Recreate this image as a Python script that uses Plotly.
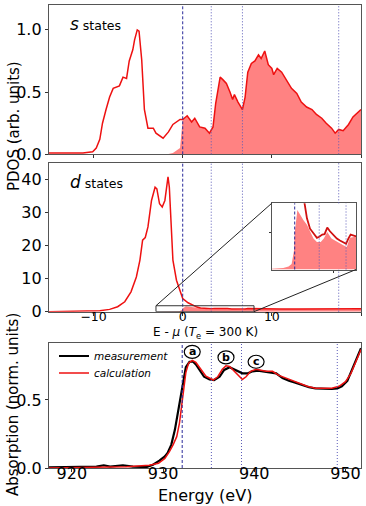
import plotly.graph_objects as go

# ---------------- data ----------------
# s-projected DOS (panel 1), energy relative to mu (eV)
s_x = [-15, -11.2, -10.1, -9.7, -9.3, -9.0, -8.6, -8.2, -7.8, -7.5, -7.1, -6.7, -6.3, -6.0,
       -5.6, -5.4, -5.1, -4.9, -4.6, -4.3, -3.9, -3.3, -3.0, -2.2, -1.6, -1.1, -0.3, 0.0,
       0.5, 1.0, 1.35, 1.9, 2.5, 3.0, 3.4, 3.7, 4.2, 4.5, 4.9, 5.3, 5.6, 5.8, 6.2, 6.7,
       7.0, 7.3, 7.7, 8.1, 8.5, 8.8, 9.2, 9.6, 10.0, 10.2, 10.6, 11.1, 11.6, 12.2, 12.8,
       13.3, 13.9, 14.5, 15.0, 15.6, 16.1, 16.7, 17.1, 17.5, 18.0, 18.6, 19.1, 20.0]
s_y = [0.01, 0.01, 0.02, 0.05, 0.12, 0.25, 0.36, 0.46, 0.53, 0.54, 0.55, 0.62, 0.61, 0.75,
       0.84, 0.92, 1.0, 0.99, 0.76, 0.36, 0.21, 0.21, 0.17, 0.13, 0.18, 0.24, 0.28, 0.28,
       0.31, 0.26, 0.29, 0.22, 0.21, 0.17, 0.22, 0.41, 0.62, 0.60, 0.57, 0.50, 0.44, 0.48,
       0.42, 0.36, 0.46, 0.66, 0.73, 0.75, 0.80, 0.77, 0.83, 0.72, 0.69, 0.64, 0.69, 0.66,
       0.60, 0.53, 0.49, 0.42, 0.38, 0.36, 0.32, 0.29, 0.25, 0.21, 0.17, 0.20, 0.19, 0.24,
       0.30, 0.36]
# unoccupied part of the s DOS (shaded)
s_fill = [0, 0, 0, 0, 0, 0, 0, 0, 0, 0, 0, 0, 0, 0,
          0, 0, 0, 0, 0, 0, 0, 0, 0, 0, 0.002, 0.01, 0.05, 0.28,
          0.31, 0.26, 0.29, 0.22, 0.21, 0.17, 0.22, 0.41, 0.62, 0.60, 0.57, 0.50, 0.44, 0.48,
          0.42, 0.36, 0.46, 0.66, 0.73, 0.75, 0.80, 0.77, 0.83, 0.72, 0.69, 0.64, 0.69, 0.66,
          0.60, 0.53, 0.49, 0.42, 0.38, 0.36, 0.32, 0.29, 0.25, 0.21, 0.17, 0.20, 0.19, 0.24,
          0.30, 0.36]

# d-projected DOS (panel 2)
d_x = [-15, -11.2, -9.3, -8.2, -7.3, -6.5, -5.8, -5.2, -4.8, -4.5, -4.2, -3.9, -3.5, -3.1,
       -2.9, -2.6, -2.3, -2.0, -1.8, -1.65, -1.5, -1.3, -1.1, -0.7, -0.3, 0.0, 0.6, 1.2,
       1.6, 2.0, 2.45, 2.9, 3.2, 3.6, 3.9, 4.25, 4.6, 5.0, 5.5, 5.9, 6.35, 6.7, 7.0, 7.3,
       7.9, 9, 11, 13, 15, 17, 18.5, 20]
d_y = [0, 0.1, 0.3, 0.7, 1.5, 3.0, 6.0, 10.5, 15.6, 21.6, 22.4, 25.6, 33.6, 37.6,
       37.1, 32.6, 31.6, 33.6, 38.2, 40.7, 37.6, 25.6, 15.6, 9.5, 6.0, 4.0, 2.7, 1.85,
       1.39, 1.11, 0.98, 0.86, 0.89, 0.95, 0.96, 1.14, 1.04, 0.95, 0.84, 0.79, 0.75, 0.70,
       0.84, 0.95, 0.91, 0.9, 0.85, 0.85, 0.8, 0.75, 0.8, 0.9]
# shaded (unoccupied) d DOS
d_fill_x = [-3, -1.5, -0.8, -0.4, -0.1, 0.0, 0.35, 0.7, 1.15, 1.6, 2.0, 2.45, 2.9, 3.4,
            3.8, 4.25, 4.8, 5.5, 6.35, 6.8, 7.2, 7.9, 9, 11, 13, 15, 17, 18.5, 20]
d_fill_y = [0.02, 0.04, 0.08, 0.15, 0.5, 1.0, 1.62, 1.48, 1.34, 1.22, 1.02, 0.84, 0.75, 0.75,
            0.84, 1.02, 0.84, 0.75, 0.66, 0.61, 0.86, 0.89, 0.85, 0.8, 0.8, 0.75, 0.7, 0.75, 0.85]

# XAS (panel 3)
e_meas = [917.5, 921.3, 922.7, 923.5, 924.2, 925.6, 926.7, 928.2, 928.9, 929.6, 930.2,
          930.5, 930.9, 931.3, 931.6, 932.0, 932.3, 932.5, 932.9, 933.3, 933.6, 934.0,
          934.5, 935.1, 935.6, 936.2, 936.7, 937.3, 937.6, 938.2, 938.7, 939.3, 939.8,
          940.4, 940.9, 941.6, 942.4, 943.1, 943.8, 944.5, 945.3, 946.0, 946.7, 947.6,
          948.5, 949.1, 949.6, 950.2, 950.7, 951.3, 951.7]
a_meas = [0.005, 0.005, 0.01, 0.02, 0.01, 0.02, 0.01, 0.007, 0.024, 0.054, 0.085,
          0.11, 0.17, 0.28, 0.40, 0.55, 0.67, 0.74, 0.78, 0.78, 0.76, 0.72,
          0.67, 0.65, 0.646, 0.67, 0.72, 0.74, 0.73, 0.71, 0.695, 0.695, 0.71,
          0.715, 0.71, 0.70, 0.695, 0.66, 0.64, 0.627, 0.61, 0.593, 0.585, 0.58,
          0.58, 0.585, 0.60, 0.64, 0.72, 0.82, 0.88]
e_calc = [917.5, 922, 926, 928.5, 929.5, 930.2, 930.7, 931.1, 931.5, 931.8, 932.2, 932.5,
          932.8, 933.2, 933.6, 934.2, 934.7, 935.5, 936.0, 936.5, 936.9, 937.3, 937.8,
          938.4, 938.7, 939.1, 939.6, 940.2, 940.7, 941.3, 942.0, 942.7, 943.5, 944.2,
          944.9, 945.8, 946.7, 948.5, 949.3, 950.0, 950.6, 951.1, 951.7]
a_calc = [0.0, 0.005, 0.01, 0.02, 0.035, 0.07, 0.12, 0.17, 0.23, 0.33, 0.52, 0.70,
          0.77, 0.79, 0.775, 0.72, 0.675, 0.646, 0.67, 0.725, 0.75, 0.745, 0.71,
          0.67, 0.65, 0.67, 0.71, 0.725, 0.72, 0.71, 0.71, 0.68, 0.66, 0.64,
          0.62, 0.60, 0.585, 0.585, 0.60, 0.634, 0.695, 0.78, 0.87]

# reference energies
mu_fermi = 0.0
mu_features = [3.2, 6.7, 17.5]
e_fermi = 932.1
e_features = [935.3, 938.6, 949.1]
peak_labels = ["a", "b", "c"]
peak_e = [933.2, 936.9, 940.2]
peak_a = [0.853, 0.812, 0.78]

# zoom window for inset
inset_xr = [-3, 8]
inset_yr = [0, 1.8]

# ---------------- layout geometry ----------------
W, H = 366, 506
ML, MR, MT, MB = 49, 5, 5, 38
PW, PH = W - ML - MR, H - MT - MB


def fy(px):
    return (H - MB - px) / PH


def fx(px):
    return (px - ML) / PW


dom1 = [fy(154.3), fy(5)]
dom2 = [fy(311.7), fy(162.7)]
dom3 = [0, fy(342.7)]
ins_x = [fx(271.7), fx(356)]
ins_y = [fy(269.5), fy(203.3)]

RED = "#ee1111"
FILL = "#ff8282"
DASH_C = "#2a2a9a"
DOT_C = "#5a5ab8"
DASH = "3px,2px"
DOT = "1px,2px"
FONT = "DejaVu Sans"

fig = go.Figure()
fig.add_trace(go.Scatter(x=s_x, y=s_fill, mode="lines", line=dict(width=0), fill="tozeroy",
                         fillcolor=FILL, xaxis="x", yaxis="y", showlegend=False, hoverinfo="skip"))
fig.add_trace(go.Scatter(x=s_x, y=s_y, mode="lines", line=dict(color=RED, width=1.5),
                         xaxis="x", yaxis="y", showlegend=False))
fig.add_trace(go.Scatter(x=d_fill_x, y=d_fill_y, mode="lines", line=dict(width=0), fill="tozeroy",
                         fillcolor=FILL, xaxis="x2", yaxis="y2", showlegend=False, hoverinfo="skip"))
fig.add_trace(go.Scatter(x=d_x, y=d_y, mode="lines", line=dict(color=RED, width=1.5),
                         xaxis="x2", yaxis="y2", showlegend=False))
fig.add_trace(go.Scatter(x=d_fill_x, y=d_fill_y, mode="lines", line=dict(width=0), fill="tozeroy",
                         fillcolor=FILL, xaxis="x4", yaxis="y4", showlegend=False, hoverinfo="skip"))
fig.add_trace(go.Scatter(x=d_x, y=d_y, mode="lines", line=dict(color="#d01010", width=1.8),
                         xaxis="x4", yaxis="y4", showlegend=False))
fig.add_trace(go.Scatter(x=e_meas, y=a_meas, mode="lines", line=dict(color="black", width=2.2),
                         xaxis="x3", yaxis="y3", name="<i>measurement</i>", legend="legend"))
fig.add_trace(go.Scatter(x=e_calc, y=a_calc, mode="lines", line=dict(color=RED, width=1.5),
                         xaxis="x3", yaxis="y3", name="<i>calculation</i>", legend="legend2"))

common = dict(showline=True, mirror=True, linecolor="#555555", linewidth=1.3, ticks="outside",
              ticklen=3, tickwidth=1, tickcolor="#333333", showgrid=False, zeroline=False,
              tickfont=dict(family=FONT, size=16, color="black"))

leg = dict(xanchor="left", yanchor="middle", bgcolor="rgba(0,0,0,0)",
           font=dict(family=FONT, size=10.5, color="black"), itemwidth=30)

fig.update_layout(
    width=W, height=H, margin=dict(l=ML, r=MR, t=MT, b=MB),
    paper_bgcolor="white", plot_bgcolor="white",
    font=dict(family=FONT, color="black"),
    xaxis=dict(common, domain=[0, 1], range=[-15, 20], anchor="y", tickvals=[-10, 0, 10, 20],
               showticklabels=False),
    yaxis=dict(common, domain=dom1, range=[0, 1.2], anchor="x", tickvals=[0, 0.5, 1.0],
               ticktext=["0.0", "0.5", "1.0"]),
    xaxis2=dict(common, domain=[0, 1], range=[-15, 20], anchor="y2", tickvals=[-10, 0, 10, 20],
                tickfont=dict(family=FONT, size=12.5, color="black"), ticklabelstandoff=-10),
    yaxis2=dict(common, domain=dom2, range=[0, 45], anchor="x2", tickvals=[0, 10, 20, 30, 40]),
    xaxis3=dict(common, domain=[0, 1], range=[917.5, 951.7], anchor="y3",
                tickvals=[920, 930, 940, 950], ticklabelstandoff=-12),
    yaxis3=dict(common, domain=dom3, range=[0, 0.92], anchor="x3", tickvals=[0, 0.5],
                ticktext=["0.0", "0.5"]),
    xaxis4=dict(common, domain=ins_x, range=inset_xr, anchor="y4", tickvals=[5],
                showticklabels=False, ticklen=2),
    yaxis4=dict(common, domain=ins_y, range=inset_yr, anchor="x4", tickvals=[1],
                showticklabels=False, ticklen=2),
    legend=dict(leg, x=fx(54), y=fy(356)),
    legend2=dict(leg, x=fx(54), y=fy(373)),
)

shapes = []
# vertical reference lines
lo = (ins_y[0] - dom2[0]) / (dom2[1] - dom2[0])
hi = (ins_y[1] - dom2[0]) / (dom2[1] - dom2[0])
for xr, yr in [("x", "y"), ("x2", "y2")]:
    shapes.append(dict(type="line", xref=xr, yref=yr + " domain", x0=mu_fermi, x1=mu_fermi,
                       y0=0, y1=1, line=dict(color=DASH_C, width=1, dash=DASH), layer="above"))
    for v in mu_features:
        if xr == "x2" and (v + 15) / 35 > ins_x[0]:
            # broken around the inset axes
            for a, b in [(0, lo), (hi, 1)]:
                shapes.append(dict(type="line", xref=xr, yref=yr + " domain", x0=v, x1=v,
                                   y0=a, y1=b, line=dict(color=DOT_C, width=1, dash=DOT),
                                   layer="above"))
            continue
        shapes.append(dict(type="line", xref=xr, yref=yr + " domain", x0=v, x1=v, y0=0, y1=1,
                           line=dict(color=DOT_C, width=1, dash=DOT), layer="above"))
# inset lines
shapes.append(dict(type="line", xref="x4", yref="y4 domain", x0=mu_fermi, x1=mu_fermi, y0=0, y1=1,
                   line=dict(color=DASH_C, width=1, dash=DASH), layer="above"))
for v in mu_features:
    if inset_xr[0] < v < inset_xr[1]:
        shapes.append(dict(type="line", xref="x4", yref="y4 domain", x0=v, x1=v, y0=0, y1=1,
                           line=dict(color=DOT_C, width=1, dash=DOT), layer="above"))
# absorption panel lines
shapes.append(dict(type="line", xref="x3", yref="y3 domain", x0=e_fermi, x1=e_fermi, y0=0, y1=1,
                   line=dict(color=DASH_C, width=1, dash=DASH), layer="above"))
for v in e_features:
    shapes.append(dict(type="line", xref="x3", yref="y3 domain", x0=v, x1=v, y0=0, y1=1,
                       line=dict(color=DOT_C, width=1, dash=DOT), layer="above"))

# zoom rectangle and connectors
shapes.append(dict(type="rect", xref="x2", yref="y2", x0=inset_xr[0], x1=inset_xr[1],
                   y0=inset_yr[0], y1=inset_yr[1], line=dict(color="#333333", width=1),
                   layer="above"))


def p2x(v):
    return (v + 15) / 35


def p2y(v):
    return dom2[0] + v / 45 * (dom2[1] - dom2[0])


shapes.append(dict(type="line", xref="paper", yref="paper", x0=p2x(inset_xr[0]), y0=p2y(inset_yr[1]),
                   x1=ins_x[0], y1=ins_y[1], line=dict(color="#222222", width=1), layer="above"))
shapes.append(dict(type="line", xref="paper", yref="paper", x0=p2x(inset_xr[1]), y0=p2y(inset_yr[0]),
                   x1=ins_x[1], y1=ins_y[0], line=dict(color="#222222", width=1), layer="above"))

# circled labels
for e, a in zip(peak_e, peak_a):
    shapes.append(dict(type="circle", xref="x3", yref="y3", xsizemode="pixel", ysizemode="pixel",
                       xanchor=e, yanchor=a, x0=-8, x1=8, y0=-6.5, y1=6.5,
                       line=dict(color="black", width=1.2), fillcolor="white", layer="above"))
fig.update_layout(shapes=shapes)

ann = [
    dict(x=-12.9, y=1.05, xref="x", yref="y", xanchor="left", yanchor="middle", showarrow=False,
         text="<span style='font-size:17px'><i>s</i></span> states", font=dict(size=12.5)),
    dict(x=-12.9, y=39.2, xref="x2", yref="y2", xanchor="left", yanchor="middle", showarrow=False,
         text="<span style='font-size:17px'><i>d</i></span> states", font=dict(size=12.5)),
    dict(x=fx(14), y=fy(126), xref="paper", yref="paper", textangle=-90, showarrow=False,
         text="PDOS (arb. units)", font=dict(size=15), xanchor="center", yanchor="middle"),
    dict(x=fx(13), y=fy(405), xref="paper", yref="paper", textangle=-90, showarrow=False,
         text="Absorption (norm. units)", font=dict(size=15), xanchor="center", yanchor="middle"),
    dict(x=0.5, y=fy(333), xref="paper", yref="paper", showarrow=False,
         text="E - <i>μ</i> (<i>T</i><sub>e</sub> = 300 K)", font=dict(size=12),
         xanchor="center", yanchor="middle"),
    dict(x=0.5, y=fy(496), xref="paper", yref="paper", showarrow=False,
         text="Energy (eV)", font=dict(size=16), xanchor="center", yanchor="middle"),
]
for lab, e, a in zip(peak_labels, peak_e, peak_a):
    ann.append(dict(x=e, y=a, xref="x3", yref="y3", text="<b>" + lab + "</b>", showarrow=False,
                    font=dict(size=11), xanchor="center", yanchor="middle"))
fig.update_layout(annotations=ann)

fig.write_html("out.html")
